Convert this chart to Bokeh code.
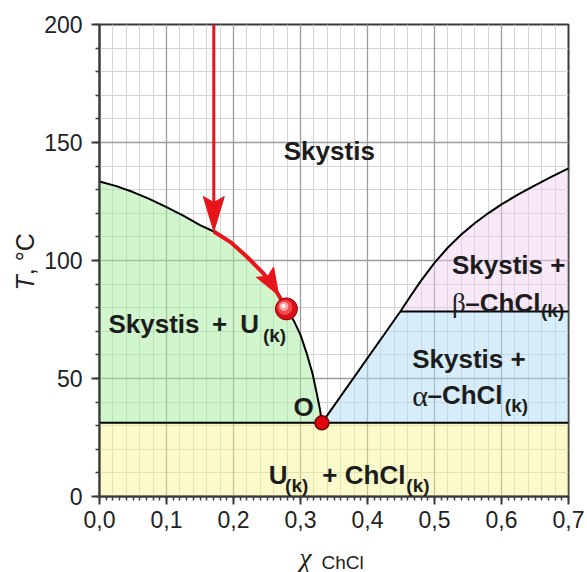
import numpy as np
from bokeh.plotting import figure
from bokeh.layouts import row, column
from bokeh.models import Range1d, FixedTicker, Grid, Label
from bokeh.embed import file_html
from bokeh.resources import INLINE

# ---------------- data ----------------
x_ticks = [0.0, 0.1, 0.2, 0.3, 0.4, 0.5, 0.6, 0.7]
x_tick_labels = ["0,0", "0,1", "0,2", "0,3", "0,4", "0,5", "0,6", "0,7"]
y_ticks = [0, 50, 100, 150, 200]
x_minor_ticks = [round(i * 0.01, 2) for i in range(71)]
x_minor_grid = [round(i * 0.02, 2) for i in range(36)]
y_minor_ticks = list(range(0, 201, 10))

# liquidus of U (left branch), from x=0 to the eutectic point
liq_left_x = [0.0, 0.025, 0.05, 0.075, 0.10, 0.125, 0.15, 0.1706, 0.1955, 0.22,
              0.245, 0.26, 0.27, 0.279, 0.29, 0.30, 0.31, 0.318, 0.324, 0.329, 0.332]
liq_left_T = [133.5, 131.5, 129.0, 126.0, 122.6, 119.0, 115.0, 112.3, 107.8, 101.6,
              94.4, 88.8, 84.0, 79.5, 74.5, 68.5, 60.0, 52.0, 44.0, 37.0, 31.2]

# liquidus of ChCl (right branch), from the eutectic point to x=0.7
liq_right_x = [0.332, 0.449, 0.465, 0.48, 0.50, 0.52, 0.54, 0.56, 0.58, 0.60,
               0.625, 0.65, 0.675, 0.70]
liq_right_T = [31.2, 78.4, 85.3, 91.5, 99.0, 105.5, 111.0, 115.8, 120.0, 123.8,
               128.0, 131.8, 135.5, 139.0]

eutectic_x, eutectic_T = 0.332, 31.2
transition_x, transition_T = 0.449, 78.4
x_max = 0.7

path_x, path_T_start = 0.1706, 200.0   # cooling path
path_T_liq = 112.3
ball_x, ball_T = 0.279, 79.5

# ---------------- styles ----------------
RED = "#e8141c"
INK = "#1c1c1c"
AX = "#3a3a3a"
SANS = "Liberation Sans"
SERIF = "Liberation Serif"

YLAB_W = 40
XLAB_H = 36
MAIN_W, MAIN_H = 587 - YLAB_W, 572 - XLAB_H
B_LEFT, B_RIGHT, B_TOP, B_BOTTOM = 59, 19, 24, 40
FRAME_W = MAIN_W - B_LEFT - B_RIGHT
FRAME_H = MAIN_H - B_TOP - B_BOTTOM

p = figure(width=MAIN_W, height=MAIN_H, x_range=Range1d(0, 0.7), y_range=Range1d(0, 200),
           output_backend="svg", toolbar_location=None,
           min_border_left=B_LEFT, min_border_right=B_RIGHT,
           min_border_top=B_TOP, min_border_bottom=B_BOTTOM)
p.background_fill_color = "white"
p.border_fill_color = "white"
p.outline_line_color = AX
p.outline_line_width = 2

p.xgrid.grid_line_color = None
p.ygrid.grid_line_color = None
p.add_layout(Grid(dimension=0, ticker=FixedTicker(ticks=x_minor_grid), grid_line_color="#d4d4d4", grid_line_width=1))
p.add_layout(Grid(dimension=1, ticker=FixedTicker(ticks=y_minor_ticks), grid_line_color="#d4d4d4", grid_line_width=1))
p.add_layout(Grid(dimension=0, ticker=FixedTicker(ticks=x_ticks), grid_line_color="#9c9c9c", grid_line_width=1.3))
p.add_layout(Grid(dimension=1, ticker=FixedTicker(ticks=y_ticks), grid_line_color="#9c9c9c", grid_line_width=1.3))

for ax, ticks, minor in ((p.xaxis[0], x_ticks, x_minor_ticks), (p.yaxis[0], y_ticks, y_minor_ticks)):
    ax.ticker = FixedTicker(ticks=ticks, minor_ticks=minor)
    ax.axis_line_color = AX
    ax.axis_line_width = 2
    ax.major_tick_line_color = AX
    ax.major_tick_line_width = 2
    ax.minor_tick_line_color = AX
    ax.minor_tick_line_width = 1.5
    ax.major_tick_in = 0
    ax.major_tick_out = 8
    ax.minor_tick_in = 0
    ax.minor_tick_out = 4
    ax.major_label_text_font = SANS
    ax.major_label_text_font_size = "23px"
    ax.major_label_text_color = "#222222"

p.xaxis[0].major_label_overrides = {t: l for t, l in zip(x_ticks, x_tick_labels)}
p.xaxis[0].major_label_standoff = 6
p.yaxis[0].major_label_standoff = 9

# ---------------- phase regions ----------------
p.quad(left=0, right=x_max, bottom=0, top=eutectic_T, fill_color="#f5f38c", fill_alpha=0.45, line_color=None)
p.patch(liq_left_x + [0.0], liq_left_T + [eutectic_T], fill_color="#a4eb9c", fill_alpha=0.5, line_color=None)
p.patch(liq_right_x[:2] + [x_max, x_max], liq_right_T[:2] + [transition_T, eutectic_T],
        fill_color="#b0def5", fill_alpha=0.5, line_color=None)
p.patch(liq_right_x[1:] + [x_max], liq_right_T[1:] + [transition_T],
        fill_color="#efcbef", fill_alpha=0.45, line_color=None)

# ---------------- phase boundaries ----------------
p.line(liq_left_x, liq_left_T, line_color="black", line_width=2)
p.line(liq_right_x, liq_right_T, line_color="black", line_width=2)
p.line([0, x_max], [eutectic_T, eutectic_T], line_color="black", line_width=2)
p.line([transition_x, x_max], [transition_T, transition_T], line_color="black", line_width=2)

# ---------------- cooling path ----------------
PX_X = 0.7 / FRAME_W     # data units per screen pixel
PX_Y = 200 / FRAME_H

lx = np.array(liq_left_x)
lT = np.array(liq_left_T)
mask = (lx >= path_x) & (lx <= ball_x)
p.line([path_x, path_x], [path_T_start, path_T_liq + 20 * PX_Y], line_color=RED, line_width=3)
p.line(lx[mask], lT[mask], line_color=RED, line_width=4)


def arrow_head(x_tip, y_tip, x_from, y_from, length, width, notch):
    """filled barbed arrow head, sized in screen pixels, pointing from (x_from,y_from) to the tip"""
    ux, uy = (x_tip - x_from) / PX_X, (y_tip - y_from) / PX_Y
    n = np.hypot(ux, uy)
    ux, uy = ux / n, uy / n
    vx, vy = -uy, ux
    pts = [(0, 0), (-length, width / 2), (-length + notch, 0), (-length, -width / 2)]
    xs = [x_tip + (a * ux + b * vx) * PX_X for a, b in pts]
    ys = [y_tip + (a * uy + b * vy) * PX_Y for a, b in pts]
    p.patch(xs, ys, fill_color=RED, line_color=RED, line_width=1)


arrow_head(path_x, path_T_liq, path_x, path_T_start, 35, 21, 6)
i_ball = int(np.argmin(np.abs(lx - ball_x)))
tip_x = ball_x - 0.0115
tip_T = float(np.interp(tip_x, lx, lT))
arrow_head(tip_x, tip_T, lx[i_ball - 2], lT[i_ball - 2], 27, 20, 5)

# glossy ball
p.scatter([ball_x], [ball_T], size=22, fill_color="#d90f17", line_color="#a00000", line_width=1)
p.scatter([ball_x - 1.5 * PX_X], [ball_T + 1.5 * PX_Y], size=15, fill_color="#f04a50", line_color=None)
p.scatter([ball_x - 2.5 * PX_X], [ball_T + 2.5 * PX_Y], size=9, fill_color="#ffa6a8", line_color=None)
p.scatter([ball_x - 3 * PX_X], [ball_T + 3 * PX_Y], size=4, fill_color="#ffffff", line_color=None)

# eutectic point
p.scatter([eutectic_x], [eutectic_T], size=14, fill_color="#e00010", line_color="#700000", line_width=1.5)


# ---------------- labels ----------------
def lab(fig, text, x, y, size=26, bold=True, font=SANS, italic=False, align="left",
        baseline="alphabetic", angle=0.0, color=INK):
    style = "bold" if bold else "normal"
    if italic:
        style = "bold italic" if bold else "italic"
    fig.add_layout(Label(x=x, y=y, text=text, text_font=font, text_font_size=f"{size}px",
                         text_font_style=style, text_color=color, text_align=align,
                         text_baseline=baseline, angle=angle))


lab(p, "Skystis", 0.343, 146.6, align="center")
lab(p, "Skystis", 0.0134, 73.3)
lab(p, "+", 0.168, 73.3)
lab(p, "U", 0.210, 73.3)
lab(p, "(k)", 0.244, 68.2, size=19)

lab(p, "Skystis +", 0.526, 97.9)
lab(p, "β", 0.526, 81.9, size=27, font=SERIF, bold=False)
lab(p, "–ChCl", 0.546, 81.9)
lab(p, "(k)", 0.659, 78.8, size=19)

lab(p, "Skystis +", 0.4667, 58.3)
lab(p, "α", 0.4667, 42.8, size=30, font=SERIF, bold=False)
lab(p, "–ChCl", 0.4895, 42.8)
lab(p, "(k)", 0.605, 38.6, size=19)

lab(p, "O", 0.2896, 37.8)

lab(p, "U", 0.2527, 8.9)
lab(p, "(k)", 0.277, 4.7, size=19)
lab(p, "+", 0.3324, 8.9)
lab(p, "ChCl", 0.366, 8.9)
lab(p, "(k)", 0.458, 4.7, size=19)

# ---------------- axis titles (own small panels) ----------------
ylab = figure(width=YLAB_W, height=MAIN_H, x_range=Range1d(0, 1), y_range=p.y_range,
              x_axis_type=None, y_axis_type=None, output_backend="svg", toolbar_location=None,
              min_border_left=0, min_border_right=0, min_border_top=B_TOP, min_border_bottom=B_BOTTOM)
ylab.outline_line_color = None
ylab.grid.visible = False
lab(ylab, "T", 0.62, 87.3, size=25, bold=False, italic=True, baseline="middle",
    angle=np.pi / 2, color="#222222")
lab(ylab, ", °C", 0.62, 93.8, size=25, bold=False, baseline="middle",
    angle=np.pi / 2, color="#222222")

xlab = figure(width=MAIN_W, height=XLAB_H, x_range=p.x_range, y_range=Range1d(0, 1),
              x_axis_type=None, y_axis_type=None, output_backend="svg", toolbar_location=None,
              min_border_left=B_LEFT, min_border_right=B_RIGHT, min_border_top=0, min_border_bottom=0)
xlab.outline_line_color = None
xlab.grid.visible = False
lab(xlab, "χ", 0.298, 0.42, size=28, bold=False, italic=True, font=SERIF, color="#222222")
lab(xlab, "ChCl", 0.3313, 0.27, size=19, bold=False, color="#222222")

layout = row(ylab, column(p, xlab, spacing=0), spacing=0)
open("out.html", "w").write(file_html(layout, INLINE))
